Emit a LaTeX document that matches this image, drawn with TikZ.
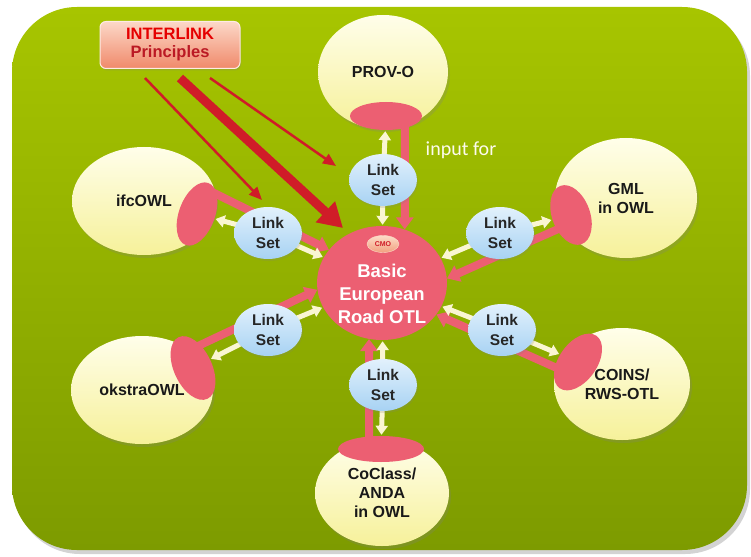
\documentclass[tikz,border=0pt]{standalone}
\usepackage{fontspec}
\setmainfont{Liberation Sans}
\newfontfamily\calibri{Carlito}
\usepackage{color}
\usepackage{tikz}
\usetikzlibrary{arrows.meta,shapes.geometric,shadows}
\definecolor{leaf}{HTML}{A7C500}
\definecolor{olive}{HTML}{7D9B00}
\definecolor{rose}{HTML}{EC5F72}
\definecolor{cream}{HTML}{FAF6D2}
\definecolor{skyA}{HTML}{E2F1FC}
\definecolor{skyB}{HTML}{A7D2F3}
\definecolor{lemonA}{HTML}{FFFEEA}
\definecolor{lemonB}{HTML}{F6F19A}
\definecolor{arrowred}{HTML}{D01C28}
\definecolor{boxA}{HTML}{FCD8C8}
\definecolor{boxB}{HTML}{F0896A}
\definecolor{cmoA}{HTML}{FCDCC8}
\definecolor{cmoB}{HTML}{F2A07E}
\pgfdeclarelayer{back}
\pgfdeclarelayer{onto}
\pgfdeclarelayer{lines}
\pgfsetlayers{back,onto,lines,main}

\begin{document}
\begin{tikzpicture}[x=1pt,y=-1pt,
	ontology/.style={ellipse,inner sep=0pt,top color=lemonA,bottom color=lemonB,align=center,
		font=\fontsize{16}{19}\selectfont\bfseries,text=black!90,
		drop shadow={opacity=.25,shadow xshift=2pt,shadow yshift=-3pt}},
	rosecap/.style={ellipse,inner sep=0pt,fill=rose},
	linkset/.style={ellipse,inner sep=0pt,minimum width=68pt,minimum height=52pt,
		top color=skyA,bottom color=skyB,align=center,
		font=\fontsize{15.5}{20}\selectfont\bfseries,text=black!85,
		drop shadow={opacity=.2,shadow xshift=1pt,shadow yshift=-2pt}},
	feed/.style={rose,line width=8pt,-{Triangle[width=17pt,length=12pt]}},
	link/.style={cream,line width=5pt,-{Triangle[width=12pt,length=9pt]},shorten >=1pt},
	rule/.style={arrowred,line width=2.5pt,-{Triangle[width=11pt,length=13pt]}}
	]

	\useasboundingbox (0,0) rectangle (751,556);
	\begin{pgfonlayer}{back}
		\path[top color=leaf,bottom color=olive,rounded corners=65pt,
			drop shadow={opacity=.35,shadow xshift=3pt,shadow yshift=-4pt}] (12,7) rectangle (747,550);
	\end{pgfonlayer}

	% ontologies
	\begin{pgfonlayer}{onto}
		\node[ontology,minimum width=130pt,minimum height=114pt] (prov) at (383,72) {PROV-O};
		\node[ontology,minimum width=144pt,minimum height=108pt] (ifc) at (144,201) {ifcOWL};
		\node[ontology,minimum width=142pt,minimum height=120pt] (gml) at (626,198) {GML\\in OWL};
		\node[ontology,minimum width=142pt,minimum height=108pt] (okstra) at (142,390) {okstraOWL};
		\node[ontology,minimum width=136pt,minimum height=112pt] (coins) at (622,384) {COINS/\\RWS-OTL};
		\node[ontology,minimum width=134pt,minimum height=106pt] (coclass) at (382,493) {CoClass/\\ANDA\\in OWL};
	\end{pgfonlayer}

	\node[rosecap,minimum width=72pt,minimum height=28pt] (cprov) at (386,116) {};
	\node[rosecap,minimum width=36pt,minimum height=66pt,rotate=-20] (cifc) at (197,214) {};
	\node[rosecap,minimum width=38pt,minimum height=62pt,rotate=20] (cgml) at (571,215) {};
	\node[rosecap,minimum width=38pt,minimum height=68pt,rotate=25] (cokstra) at (193,368) {};
	\node[rosecap,minimum width=38pt,minimum height=64pt,rotate=-35] (ccoins) at (578,362) {};
	\node[rosecap,minimum width=86pt,minimum height=26pt] (ccoclass) at (381,449) {};

	\node[ellipse,inner sep=0pt,fill=rose,minimum width=130pt,minimum height=114pt] (base) at (382,283) {};
	\node[align=center,text=white,font=\fontsize{18.5}{23}\selectfont\bfseries] (otl) at (382,294) {Basic\\European\\Road OTL};
	\node[ellipse,inner sep=0pt,minimum width=32pt,minimum height=17pt,top color=cmoA,bottom color=cmoB,
		draw=cmoA,font=\fontsize{7}{8}\selectfont\bfseries,text=arrowred] (cmo) at (383,244) {CMO};

	\node[linkset] (lsT) at (383,180) {Link\\Set};
	\node[linkset] (lsUL) at (268,233) {Link\\Set};
	\node[linkset] (lsUR) at (500,233) {Link\\Set};
	\node[linkset] (lsLL) at (268,330) {Link\\Set};
	\node[linkset] (lsLR) at (502,330) {Link\\Set};
	\node[linkset] (lsB) at (383,385) {Link\\Set};

	\node[font=\calibri\fontsize{20}{22}\selectfont,text=cream!40!white] (inp) at (461,150) {input for};

	% pink feeds into the OTL
	\coordinate (fT) at (405,118);
	\coordinate (fUL) at (210,191);
	\coordinate (fUR) at (565,226);
	\coordinate (fLL) at (196,347);
	\coordinate (fLR) at (568,373);
	\coordinate (fB) at (369,447);
	\begin{pgfonlayer}{lines}
		\draw[feed] (fT) -- (base.67);
		\draw[feed] (fUL) -- (base.148);
		\draw[feed] (fUR) -- (base.4);
		\draw[feed] (fLL) -- (base.186);
		\draw[feed] (fLR) -- (base.330);
		\draw[feed] (fB) -- (base.257);
		\foreach \ls/\c in {lsT/cprov,lsUL/cifc,lsUR/cgml,lsLL/cokstra,lsLR/ccoins,lsB/ccoclass}{
			\draw[link] (\ls.center) -- (\c);
			\draw[link] (\ls.center) -- (base);
		}
	\end{pgfonlayer}

	% principles
	\node[rectangle,rounded corners=6pt,minimum width=140pt,minimum height=47pt,
		top color=boxA,bottom color=boxB,draw=boxA!50!white,line width=1pt,align=center,
		font=\fontsize{16.5}{18}\selectfont\bfseries,
		drop shadow={opacity=.25,shadow xshift=1pt,shadow yshift=-2pt}] (ip) at (170,45)
		{\textcolor{red!90!black}{INTERLINK}\\\textcolor{arrowred!90!black}{Principles}};
	\coordinate (tipA) at (262,200);
	\coordinate (tipB) at (343,228);
	\coordinate (tipC) at (336,166);
	\draw[rule] ([xshift=-25pt,yshift=-9pt]ip.south) -- (tipA);
	\draw[rule,line width=9pt,-{Triangle[width=27pt,length=24pt]}] ([xshift=10pt,yshift=-9pt]ip.south) -- (tipB);
	\draw[rule] ([xshift=40pt,yshift=-9pt]ip.south) -- (tipC);
\end{tikzpicture}
\end{document}
